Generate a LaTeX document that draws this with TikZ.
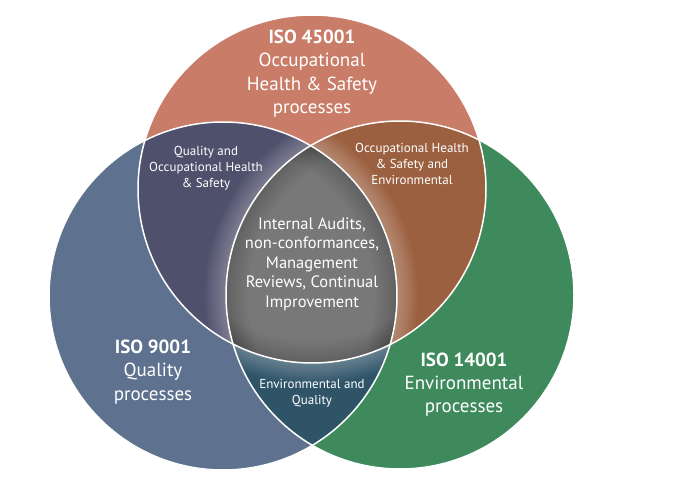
\documentclass[tikz,border=0pt]{standalone}
\usepackage{fontspec}
\setmainfont{PT Sans}
\begin{document}
\begin{tikzpicture}[x=1pt,y=-1pt,
  bigtxt/.style={text=white,align=center,font=\fontsize{19}{23.3}\selectfont,inner sep=0pt},
  midtxt/.style={text=white,align=center,font=\fontsize{16.5}{19.6}\selectfont,inner sep=0pt},
  smalltxt/.style={text=white,align=center,font=\fontsize{13}{16}\selectfont,inner sep=0pt},
  outline/.style={draw=white,line width=1.5pt},
  glow/.style={draw=white,opacity=0.022},
  shade/.style={draw=black,opacity=0.014}]
\definecolor{cTop}{RGB}{201,125,104}
\definecolor{cLeft}{RGB}{94,113,143}
\definecolor{cRight}{RGB}{62,138,92}
\definecolor{cTL}{RGB}{79,80,107}
\definecolor{cTR}{RGB}{155,96,64}
\definecolor{cLR}{RGB}{47,84,104}
\definecolor{cC}{RGB}{120,120,120}
\def\circT{(312,189) circle[radius=174pt]}
\def\circL{(223,296) circle[radius=174pt]}
\def\circR{(400,295) circle[radius=174pt]}
\fill[white] (0,0) rectangle (680,481);
\useasboundingbox (0,0) rectangle (680,481);
% base circles
\fill[cTop] \circT;
\fill[cLeft] \circL;
\fill[cRight] \circR;
% pairwise overlaps
\begin{scope}\clip \circT; \fill[cTL] \circL; \end{scope}
\begin{scope}\clip \circT; \fill[cTR] \circR; \end{scope}
\begin{scope}\clip \circL; \fill[cLR] \circR; \end{scope}
% glow round the centre
\foreach \w in {3,6,...,42}{
  \begin{scope}\clip \circT; \clip \circL; \draw[glow,line width=\w pt] \circR; \end{scope}
  \begin{scope}\clip \circT; \clip \circR; \draw[glow,line width=\w pt] \circL; \end{scope}
  \begin{scope}\clip \circL; \clip \circR; \draw[glow,line width=\w pt] \circT; \end{scope}
}
% centre region
\begin{scope}
  \clip \circT; \clip \circL; \clip \circR;
  \fill[cC] (0,0) rectangle (680,481);
  \foreach \w in {4,8,...,44}{
    \draw[shade,line width=\w pt] \circT;
    \draw[shade,line width=\w pt] \circL;
    \draw[shade,line width=\w pt] \circR;
  }
\end{scope}
% outlines
\draw[outline] \circT;
\draw[outline] \circL;
\draw[outline] \circR;
% texts
\node[bigtxt] (top) at (312,73.5) {\textbf{ISO 45001}\\Occupational\\Health \& Safety\\processes};
\node[bigtxt] (left) at (153,372) {\textbf{ISO 9001}\\Quality\\processes};
\node[bigtxt] (right) at (464,384.5) {\textbf{ISO 14001}\\Environmental\\processes};
\node[smalltxt] (tl) at (206,168) {Quality and\\Occupational Health\\\& Safety};
\node[smalltxt] (tr) at (412,164) {Occupational Health\\\& Safety and\\Environmental};
\node[smalltxt] (lr) at (312,393) {Environmental and\\Quality};
\node[midtxt] (ctr) at (312,264) {Internal Audits,\\non-conformances,\\Management\\Reviews, Continual\\Improvement};
\end{tikzpicture}
\end{document}
